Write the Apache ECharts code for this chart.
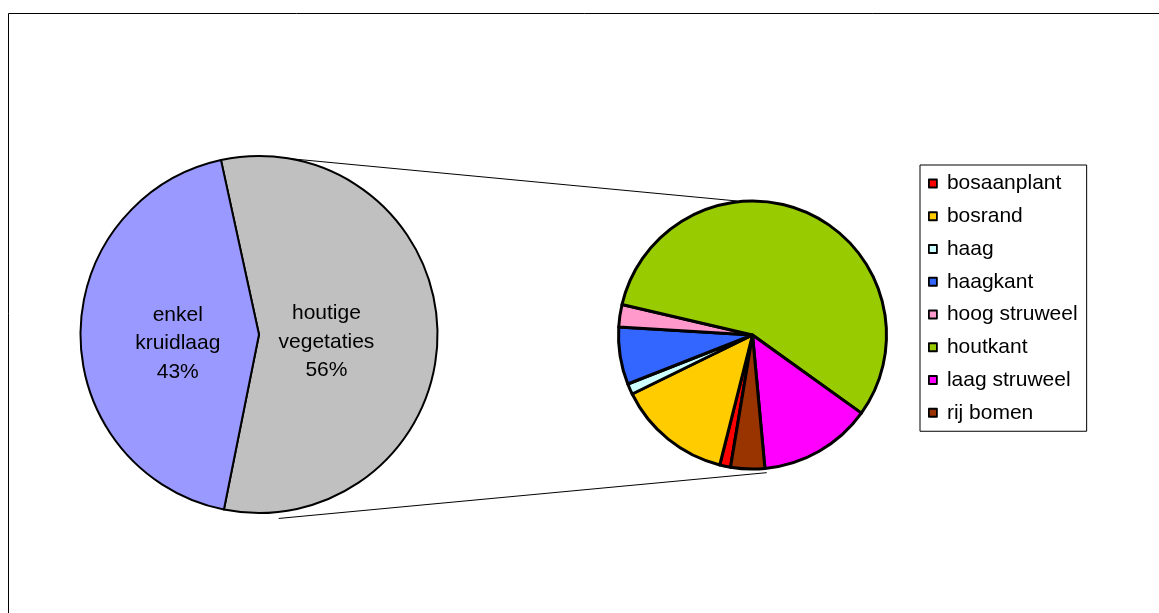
<!DOCTYPE html>
<html>
<head>
<meta charset="utf-8">
<script src="https://cdn.jsdelivr.net/npm/echarts@6/dist/echarts.min.js"></script>
<style>
html,body{margin:0;padding:0;background:#fff;}
#chart{width:1159px;height:613px;}
</style>
</head>
<body>
<div id="chart"></div>
<script>
// ---- data ----
var mainCategories = ['houtige vegetaties', 'enkel kruidlaag'];
var mainValues = [56, 43];
var mainColors = ['#C0C0C0', '#9999FF'];

var subCategories = ['bosaanplant', 'bosrand', 'haag', 'haagkant', 'hoog struweel', 'houtkant', 'laag struweel', 'rij bomen'];
var subValues = [1.3, 13.8, 1.3, 6.9, 2.7, 56.2, 13.6, 4.1];
var subColors = ['#FF0000', '#FFCC00', '#CCFFFF', '#3366FF', '#FF99CC', '#99CC00', '#FF00FF', '#993300'];

// ---- layout ----
var L = {cx: 259, cy: 334.5, r: 178.5};
var R = {cx: 752.5, cy: 335, r: 134};
function pt(c, rad, deg) {
  var a = deg * Math.PI / 180;
  return [c.cx + rad * Math.sin(a), c.cy - rad * Math.cos(a)];
}
var topA = pt(L, 178.2, 8.3), topB = pt(R, 134.9, -6.6);
var botA = pt(L, 185, 173.9), botB = pt(R, 138.4, 174.1);

var chart = echarts.init(document.getElementById('chart'), null, {renderer: 'canvas'});
var FONT = 'Liberation Sans, Arial, sans-serif';

var labelShift = [[-24.8, 8], [11, 8]];

chart.setOption({
  animation: false,
  backgroundColor: '#fff',
  graphic: [
    {type: 'rect', z: 0, silent: true, shape: {x: 8.5, y: 13.5, width: 1200, height: 700},
     style: {fill: 'none', stroke: '#000', lineWidth: 1}},
    {type: 'line', z: 0, silent: true, shape: {x1: topA[0], y1: topA[1], x2: topB[0], y2: topB[1]},
     style: {stroke: '#000', lineWidth: 1}},
    {type: 'line', z: 0, silent: true, shape: {x1: botA[0], y1: botA[1], x2: botB[0], y2: botB[1]},
     style: {stroke: '#000', lineWidth: 1}}
  ],
  legend: {
    data: subCategories,
    orient: 'vertical',
    left: 920,
    top: 165,
    padding: [8, 9, 8, 8],
    backgroundColor: '#fff',
    borderColor: '#000',
    borderWidth: 1,
    borderRadius: 0,
    icon: 'rect',
    itemWidth: 8,
    itemHeight: 8,
    itemGap: 11.75,
    selectedMode: false,
    itemStyle: {borderColor: '#000', borderWidth: 1.8},
    textStyle: {fontFamily: FONT, fontSize: 21, color: '#000', lineHeight: 21, padding: [0, 0, 0, 5]}
  },
  series: [
    {
      type: 'pie',
      center: [L.cx, L.cy],
      radius: [0, L.r],
      startAngle: 102.3,
      clockwise: true,
      silent: true,
      emphasis: {disabled: true},
      itemStyle: {borderColor: '#000', borderWidth: 2},
      label: {
        show: true,
        position: 'inside',
        fontFamily: FONT,
        fontSize: 21,
        lineHeight: 28.5,
        color: '#000',
        align: 'center',
        formatter: function (p) { return p.name.replace(' ', '\n') + '\n' + p.value + '%'; }
      },
      labelLayout: function (p) { var s = labelShift[p.dataIndex]; return {dx: s[0], dy: s[1]}; },
      labelLine: {show: false},
      data: mainCategories.map(function (n, i) {
        return {name: n, value: mainValues[i], itemStyle: {color: mainColors[i]}};
      })
    },
    {
      type: 'pie',
      center: [R.cx, R.cy],
      radius: [0, R.r],
      startAngle: 260.55,
      clockwise: true,
      silent: true,
      emphasis: {disabled: true},
      itemStyle: {borderColor: '#000', borderWidth: 3},
      label: {show: false},
      labelLine: {show: false},
      data: subCategories.map(function (n, i) {
        return {name: n, value: subValues[i], itemStyle: {color: subColors[i]}};
      })
    }
  ]
});
</script>
</body>
</html>
